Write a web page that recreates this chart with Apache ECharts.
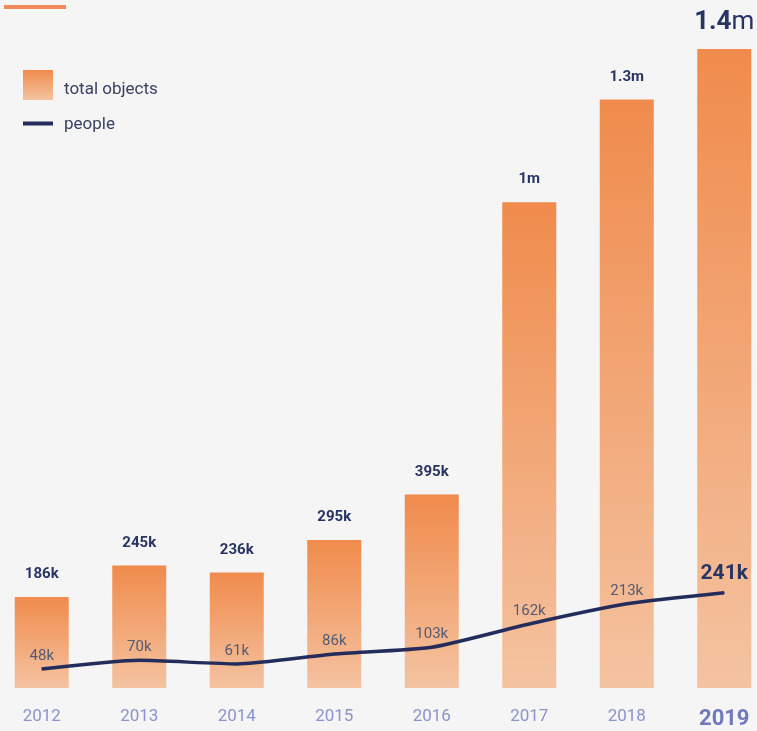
<!DOCTYPE html>
<html>
<head>
<meta charset="utf-8">
<script src="https://cdn.jsdelivr.net/npm/echarts@6/dist/echarts.min.js"></script>
<style>
  html, body { margin: 0; padding: 0; background: #f5f5f5; overflow: hidden; }
  #chart { position: absolute; left: -7px; top: 0; width: 780px; height: 731px; }
</style>
</head>
<body>
<div id="chart"></div>
<script>
const years = ["2012", "2013", "2014", "2015", "2016", "2017", "2018", "2019"];
// total objects (thousands)
const totalObjects = [186, 250, 236, 302, 395, 992, 1202, 1305];
const totalLabels = ["186k", "245k", "236k", "295k", "395k", "1m", "1.3m", "1.4m"];
// people (thousands)
const people = [48, 70, 61, 86, 103, 162, 213, 241];
const peopleLabels = ["48k", "70k", "61k", "86k", "103k", "162k", "213k", "241k"];

const chart = echarts.init(document.getElementById("chart"));
const last = years.length - 1;
// chart div is shifted 7px left of the window
const shift = 7;

const barGradient = new echarts.graphic.LinearGradient(0, 0, 0, 1, [
  { offset: 0, color: "#f08b4c" },
  { offset: 1, color: "#f4c3a1" },
]);

const legendText = (padTop) => ({
  color: "#3a4163",
  fontSize: 17,
  fontFamily: "Roboto",
  rich: {
    t: { color: "#3a4163", fontSize: 17, fontFamily: "Roboto", padding: [padTop, 0, 0, 6] },
  },
});

const options = {
  backgroundColor: "#f5f5f5",
  textStyle: { fontFamily: "Roboto" },
  graphic: [
    {
      type: "rect",
      left: 4 + shift,
      top: 5,
      shape: { width: 62, height: 4 },
      style: { fill: "#f08a5a" },
    },
  ],
  legend: [
    {
      data: [{ name: "total objects", icon: "rect" }],
      left: 23 + shift,
      top: 70,
      padding: 0,
      itemWidth: 30,
      itemHeight: 30,
      formatter: (name) => "{t|" + name + "}",
      textStyle: legendText(9),
    },
    {
      data: [{ name: "people", icon: "rect" }],
      left: 23 + shift,
      top: 116,
      padding: 0,
      itemWidth: 30,
      itemHeight: 4,
      formatter: (name) => "{t|" + name + "}",
      textStyle: legendText(2),
    },
  ],
  grid: { left: 0, right: 0, top: 48, bottom: 43 },
  xAxis: {
    type: "category",
    data: years,
    axisLine: { show: false },
    axisTick: { show: false },
    axisLabel: {
      margin: 20,
      fontSize: 17,
      color: "#8a93cb",
      formatter: (v) => (v === years[last] ? "{hl|" + v + "}" : v),
      rich: {
        hl: { fontSize: 22, fontWeight: "bold", color: "#6f79bb" },
      },
    },
  },
  yAxis: [
    { type: "value", min: 0, max: 1307, show: false, splitLine: { show: false } },
    { type: "value", min: 0, max: 1620, show: false, splitLine: { show: false } },
  ],
  series: [
    {
      name: "total objects",
      type: "bar",
      barWidth: 54,
      itemStyle: { color: barGradient },
      label: {
        show: true,
        position: "top",
        distance: 15,
        color: "#283462",
        fontSize: 15,
        fontWeight: "bold",
        formatter: (p) => totalLabels[p.dataIndex],
      },
      data: totalObjects.map((v, i) =>
        i === last
          ? {
              value: v,
              label: {
                distance: 13,
                formatter: () => "{big|1.4}{unit|m}",
                rich: {
                  big: { fontSize: 26, fontWeight: "bold", color: "#283462" },
                  unit: { fontSize: 26, fontWeight: "normal", color: "#283462" },
                },
              },
            }
          : v
      ),
    },
    {
      name: "people",
      type: "line",
      yAxisIndex: 1,
      smooth: 0.2,
      symbol: "circle",
      symbolSize: 1,
      showSymbol: true,
      lineStyle: { color: "#232c5a", width: 3.5 },
      itemStyle: { color: "#232c5a" },
      label: {
        show: true,
        position: "top",
        distance: 5,
        color: "#555a72",
        fontSize: 15,
        formatter: (p) => peopleLabels[p.dataIndex],
      },
      data: people.map((v, i) =>
        i === last
          ? {
              value: v,
              label: { fontSize: 21, fontWeight: "bold", color: "#283462", distance: 8 },
            }
          : v
      ),
    },
  ],
};

chart.setOption(options);
</script>
</body>
</html>
